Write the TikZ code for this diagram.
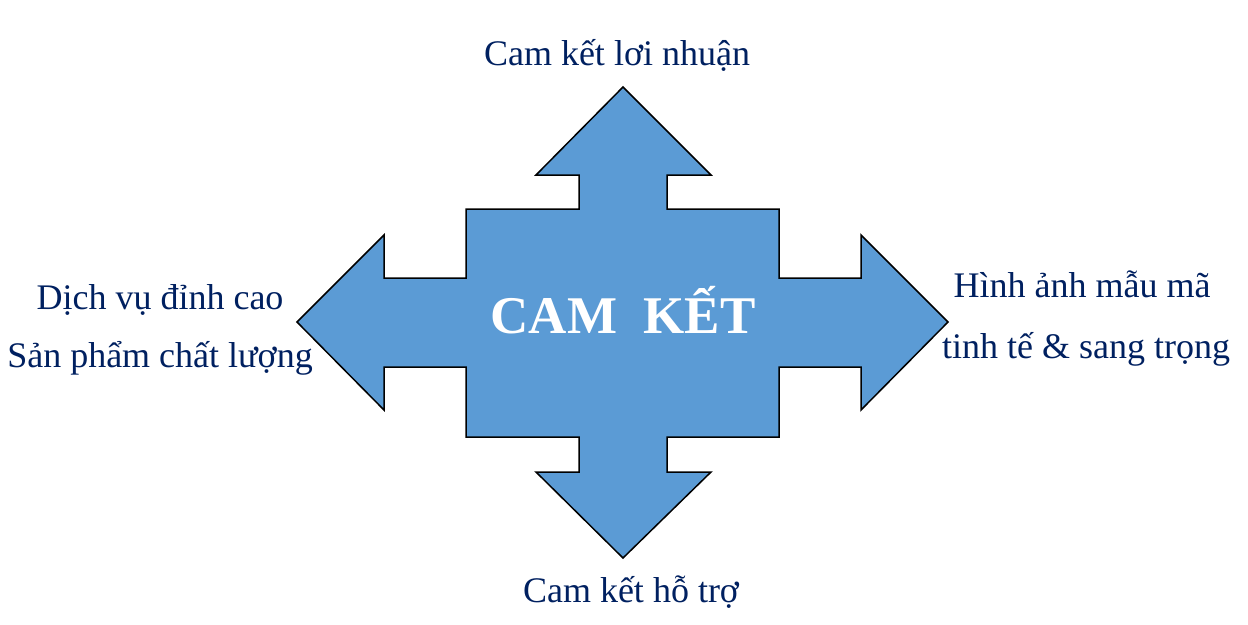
\documentclass[tikz,border=0pt]{standalone}
\usepackage{fontspec}
\setmainfont{Liberation Serif}
\usepackage{tikz}
\usetikzlibrary{calc}
\definecolor{navytext}{RGB}{0,32,96}
\definecolor{arrowblue}{RGB}{91,155,213}
\tikzset{>=latex}
\tikzset{
  sidelabel/.style={align=center, anchor=base, inner sep=0pt, text=navytext, font=\fontsize{36}{58}\selectfont},
  crossarrow/.style={fill=arrowblue, draw=black, line width=1.5pt, line join=miter}
}

\begin{document}
\begin{tikzpicture}[x=1pt,y=-1pt]
\useasboundingbox (0,0) rectangle (1248,624);
\path[crossarrow] (623,87) -- (711,175) -- (667,175) -- (667,209) -- (779,209)
  -- (779,278) -- (861,278) -- (861,235) -- (948,322) -- (861,410) -- (861,367)
  -- (779,367) -- (779,437) -- (667,437) -- (667,472) -- (711,472) -- (623,558)
  -- (536,472) -- (579,472) -- (579,437) -- (466,437) -- (466,367) -- (384,367)
  -- (384,410) -- (297,322) -- (384,235) -- (384,278) -- (466,278) -- (466,209)
  -- (579,209) -- (579,175) -- (536,175) -- cycle;
\node[anchor=base, inner sep=0pt, text=white, font=\fontsize{53}{60}\selectfont\bfseries] (camket) at (623,333) {CAM\ \ KẾT};
\node[sidelabel] (loinhuan) at (617,65) {Cam kết lơi nhuận};
\node[sidelabel] (hotro) at (631,602) {Cam kết hỗ trợ};
\node[sidelabel] (dichvu) at (160,309) {Dịch vụ đỉnh cao};
\node[sidelabel] (sanpham) at (160,367) {Sản phẩm chất lượng};
\node[sidelabel] (hinhanh) at (1082,297) {Hình ảnh mẫu mã};
\node[sidelabel] (tinhte) at (1086,358) {tinh tế \& sang trọng};
%\draw[help lines,step=50] (0,0) grid (1248,624) ;
\end{tikzpicture}
\end{document}
